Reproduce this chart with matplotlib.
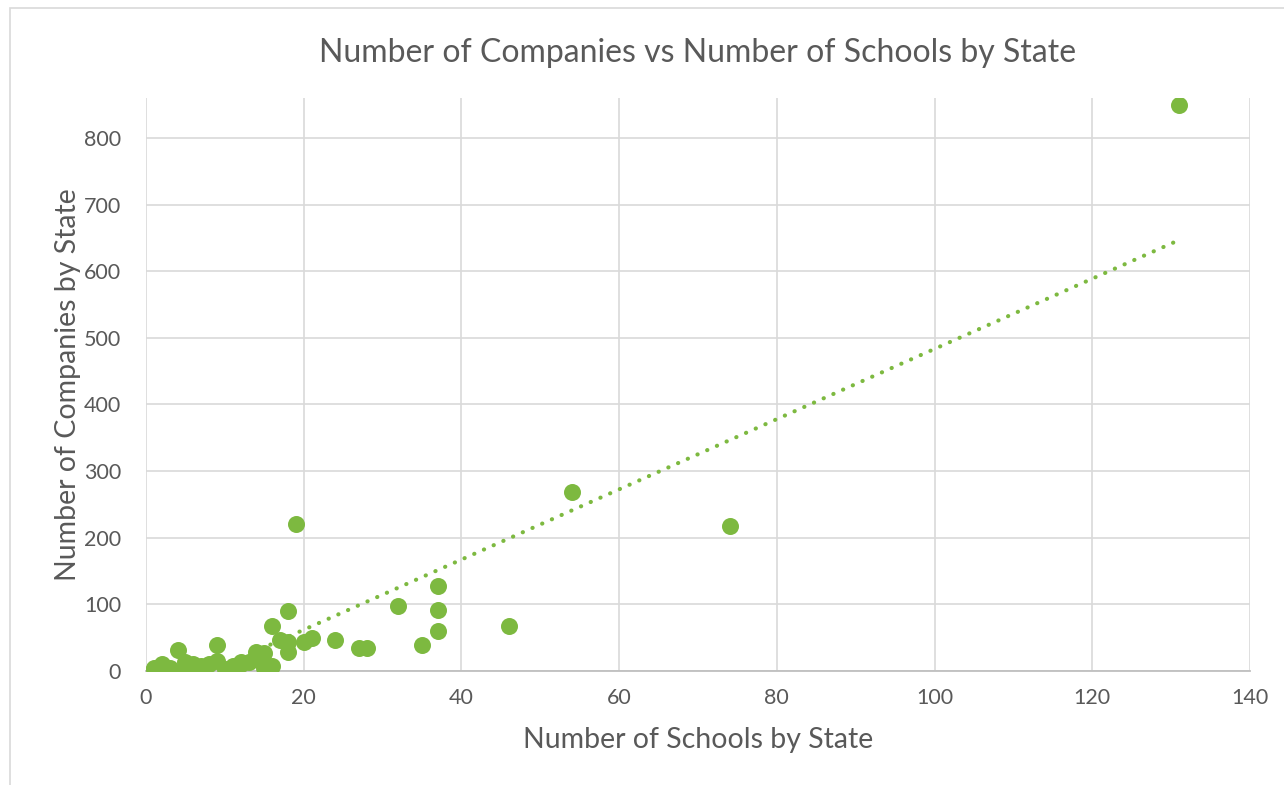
import numpy as np
import matplotlib
matplotlib.use("Agg")
import matplotlib.pyplot as plt
from matplotlib.patches import Rectangle

schools = [1, 1, 2, 2, 2, 3, 3, 4, 5, 5, 6, 7, 8, 9, 9, 10, 11, 12, 12, 13,
           14, 14, 15, 15, 16, 16, 17, 18, 18, 18, 19, 20, 21, 24, 27, 28,
           32, 35, 37, 37, 37, 46, 54, 74, 131]
companies = [3, 5, 2, 8, 10, 2, 5, 31, 5, 14, 10, 8, 10, 15, 39, 3, 8, 13, 10, 14,
             28, 18, 27, 4, 7, 67, 47, 44, 28, 90, 221, 44, 50, 46, 35, 35,
             97, 39, 60, 92, 128, 68, 268, 218, 850]

x_ticks = [0, 20, 40, 60, 80, 100, 120, 140]
y_ticks = [0, 100, 200, 300, 400, 500, 600, 700, 800]

GREEN = "#7DB940"
TEXT = "#595959"
GRID = "#D9D9D9"

plt.rcParams["font.family"] = ["Lato", "DejaVu Sans"]

fig = plt.figure(figsize=(12.84, 7.85), dpi=100)
ax = fig.add_axes([146 / 1284, 1 - 671 / 785, (1250 - 146) / 1284, (671 - 98) / 785])

# chart-area frame
fig.patches.append(Rectangle((10 / 1284, -0.01), 1.1, 1 - 8 / 785 + 0.01,
                             transform=fig.transFigure, fill=False,
                             edgecolor=GRID, linewidth=1.2))

ax.scatter(schools, companies, s=150, color=GREEN, zorder=3, linewidths=0)

# linear trendline
xs = np.array(schools, dtype=float)
ys = np.array(companies, dtype=float)
m, b = np.polyfit(xs, ys, 1)
tx = np.linspace(xs.min(), xs.max(), 200)
ax.plot(tx, m * tx + b, linestyle=(0, (0.05, 2.5)), color=GREEN, linewidth=3.0,
        dash_capstyle="round", zorder=2)

ax.set_xlim(0, 140)
ax.set_ylim(0, 860)
ax.set_xticks(x_ticks)
ax.set_yticks(y_ticks)
ax.grid(True, color=GRID, linewidth=1.2, zorder=0)
ax.set_axisbelow(True)
for s in ["top", "right", "left"]:
    ax.spines[s].set_visible(False)
ax.spines["bottom"].set_color("#BFBFBF")
ax.spines["bottom"].set_linewidth(1.3)
ax.tick_params(length=0, labelsize=15.5, labelcolor=TEXT)
ax.tick_params(axis="y", pad=18)
ax.tick_params(axis="x", pad=12)

ax.set_xlabel("Number of Schools by State", fontsize=20.5, color=TEXT, labelpad=14)
ax.set_ylabel("Number of Companies by State", fontsize=20.5, color=TEXT, labelpad=2)
fig.text((146 + 1250) / 2 / 1284, 1 - 53 / 785,
         "Number of Companies vs Number of Schools by State",
         ha="center", va="center", fontsize=23, color=TEXT)

fig.savefig("out.png", dpi=100, facecolor="white")
